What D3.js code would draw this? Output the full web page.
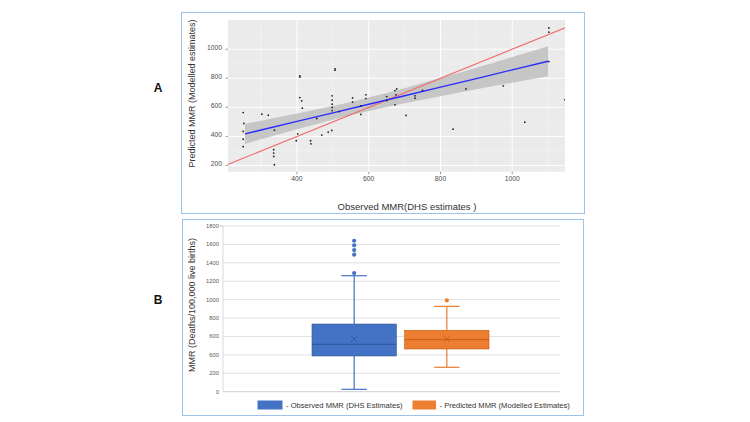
<!DOCTYPE html>
<html><head><meta charset="utf-8">
<script src="https://cdn.jsdelivr.net/npm/d3@7"></script>
<style>html,body{margin:0;padding:0;background:#fff;}svg{display:block;}</style>
</head><body>
<svg id="c" width="750" height="422"></svg>
<script>
// ---------- Panel A data ----------
const obsX  = [250,252,250,250,250,302,320,337,335,335,335,337,402,398,408,408,408,413,415,438,439,455,469,487,497,498,498,498,498,498,506,506,518,555,555,578,578,592,592,650,650,673,678,673,676,704,729,729,750,835,871,975,1035,1102,1102,1102,1147];
const predY = [564,489,434,381,329,553,546,443,308,285,262,205,418,370,816,808,667,645,594,370,349,523,409,430,441,679,649,622,599,578,865,856,571,665,636,551,610,686,660,674,647,715,727,617,686,544,679,663,716,450,727,748,498,1146,1117,915,652];
const smoothX  = [255,300,400,500,600,700,800,900,1000,1100];
const smoothY  = [417,444,503,562,621,680,739,798,858,917];
const smoothLo = [348,380,449,515,574,628,677,724,770,814];
const smoothHi = [486,508,557,609,668,732,801,872,946,1020];
const xTicksA = [400,600,800,1000];
const yTicksA = [200,400,600,800,1000];
const xMinorA = [300,500,700,900,1100];
const yMinorA = [300,500,700,900,1100];

// ---------- Panel B data ----------
const groups   = ["Observed MMR (DHS Estimates)","Predicted MMR (Modelled Estimates)"];
const legendLabels = ["- Observed MMR (DHS Estimates)","- Predicted MMR (Modelled Estimates)"];
const boxQ1    = [388,464];
const boxMed   = [515,565];
const boxQ3    = [735,667];
const boxMean  = [572,572];
const whiskLo  = [26,265];
const whiskHi  = [1260,927];
const outliers = [[1289,1488,1539,1590,1640],[992]];
const yTicksB  = [0,200,400,600,800,1000,1200,1400,1600,1800];
const yTickLabelsB = ["0","200","600","600","800","1000","1200","1400","1600","1800"];
const boxColors  = ["#4472c4","#ed7d31"];
const darkColors = ["#2f5597","#c55a11"];

const svg = d3.select("#c");
const FONT = "'Liberation Sans', Arial, sans-serif";
const border = "#9dc3e6";

// panel frames
svg.append("rect").attr("x",181.5).attr("y",12.5).attr("width",403).attr("height",201)
  .attr("fill","none").attr("stroke",border).attr("stroke-width",1);
svg.append("rect").attr("x",182.5).attr("y",219.5).attr("width",401).attr("height",196)
  .attr("fill","none").attr("stroke",border).attr("stroke-width",1);

// panel letters
svg.append("text").attr("x",158).attr("y",92).attr("text-anchor","middle")
  .style("font",`bold 12px ${FONT}`).attr("fill","#111").text("A");
svg.append("text").attr("x",158).attr("y",304).attr("text-anchor","middle")
  .style("font",`bold 12px ${FONT}`).attr("fill","#111").text("B");

// ================= Panel A =================
const xA = d3.scaleLinear().domain([207.7,1147]).range([228,565]);
const yA = d3.scaleLinear().domain([157,1201]).range([171.7,20]);
const gA = svg.append("g");
gA.append("defs").append("clipPath").attr("id","clipA").append("rect")
  .attr("x",228).attr("y",20).attr("width",337).attr("height",151.7);
gA.append("rect").attr("x",228).attr("y",20).attr("width",337).attr("height",151.7).attr("fill","#ebebeb");
const gridA = gA.append("g");
gridA.selectAll(".vm").data(xMinorA.filter(d=>xA(d)<565)).join("line")
  .attr("x1",d=>xA(d)).attr("x2",d=>xA(d)).attr("y1",20).attr("y2",171.7)
  .attr("stroke","#f6f6f6").attr("stroke-width",0.5);
gridA.selectAll(".hm").data(yMinorA).join("line")
  .attr("y1",d=>yA(d)).attr("y2",d=>yA(d)).attr("x1",228).attr("x2",565)
  .attr("stroke","#f6f6f6").attr("stroke-width",0.5);
gridA.selectAll(".vM").data(xTicksA).join("line")
  .attr("x1",d=>xA(d)).attr("x2",d=>xA(d)).attr("y1",20).attr("y2",171.7)
  .attr("stroke","#fff").attr("stroke-width",1);
gridA.selectAll(".hM").data(yTicksA).join("line")
  .attr("y1",d=>yA(d)).attr("y2",d=>yA(d)).attr("x1",228).attr("x2",565)
  .attr("stroke","#fff").attr("stroke-width",1);

const plotA = gA.append("g").attr("clip-path","url(#clipA)");
const band = d3.area().x((d,i)=>xA(smoothX[i])).y0((d,i)=>yA(smoothLo[i])).y1((d,i)=>yA(smoothHi[i])).curve(d3.curveMonotoneX);
plotA.append("path").datum(smoothX).attr("d",band).attr("fill","#c4c4c4").attr("opacity",0.95);
const idLine = d3.line().x(d=>xA(d)).y(d=>yA(d));
plotA.append("path").datum([150,1300]).attr("d",idLine).attr("fill","none")
  .attr("stroke","#f26b6b").attr("stroke-width",1.1);
const fitLine = d3.line().x((d,i)=>xA(smoothX[i])).y((d,i)=>yA(smoothY[i]));
plotA.append("path").datum(smoothX).attr("d",fitLine).attr("fill","none")
  .attr("stroke","#2b2bff").attr("stroke-width",1.4);
plotA.selectAll("circle").data(obsX).join("circle")
  .attr("cx",d=>xA(d)).attr("cy",(d,i)=>yA(predY[i])).attr("r",0.9).attr("fill","#222");

// axes A
const axA = gA.append("g");
axA.selectAll(".yt").data(yTicksA).join("line")
  .attr("x1",225.5).attr("x2",228).attr("y1",d=>yA(d)).attr("y2",d=>yA(d)).attr("stroke","#555").attr("stroke-width",0.6);
axA.selectAll(".yl").data(yTicksA).join("text")
  .attr("x",222).attr("y",d=>yA(d)-2).attr("dy","0.35em").attr("text-anchor","end")
  .style("font",`6.8px ${FONT}`).attr("fill","#4d4d4d").text(d=>d);
axA.selectAll(".xt").data(xTicksA).join("line")
  .attr("y1",171.7).attr("y2",174.2).attr("x1",d=>xA(d)).attr("x2",d=>xA(d)).attr("stroke","#555").attr("stroke-width",0.6);
axA.selectAll(".xl").data(xTicksA).join("text")
  .attr("x",d=>xA(d)).attr("y",181).attr("text-anchor","middle")
  .style("font",`6.8px ${FONT}`).attr("fill","#4d4d4d").text(d=>d);
gA.append("text").attr("transform","translate(195,93.5) rotate(-90)").attr("text-anchor","middle")
  .style("font",`9px ${FONT}`).attr("fill","#333").text("Predicted MMR (Modelled estimates)");
gA.append("text").attr("x",407).attr("y",210).attr("text-anchor","middle")
  .style("font",`9.5px ${FONT}`).attr("fill","#333").text("Observed MMR(DHS estimates )");

// ================= Panel B =================
const yB = d3.scaleLinear().domain([0,1800]).range([391.7,226]);
const xB = d3.scaleBand().domain(groups).range([312,489]).paddingInner(0.09).paddingOuter(0);
const gB = svg.append("g");
gB.selectAll(".gl").data(yTicksB).join("line")
  .attr("x1",223).attr("x2",560).attr("y1",d=>yB(d)).attr("y2",d=>yB(d))
  .attr("stroke",d=>d===0?"#d0d0d0":"#e0e0e0").attr("stroke-width",1);
gB.append("line").attr("x1",223).attr("x2",223).attr("y1",yB(1800)).attr("y2",yB(0)).attr("stroke","#d9d9d9");
gB.append("line").attr("x1",220).attr("x2",223).attr("y1",yB(1800)).attr("y2",yB(1800)).attr("stroke","#bbb");
gB.selectAll(".tl").data(yTicksB).join("text")
  .attr("x",219).attr("y",d=>yB(d)).attr("dy","0.35em").attr("text-anchor","end")
  .style("font",`5.8px ${FONT}`).attr("fill","#595959").text((d,i)=>yTickLabelsB[i]);
gB.append("text").attr("transform","translate(195,305) rotate(-90)").attr("text-anchor","middle")
  .style("font",`9px ${FONT}`).attr("fill","#333").text("MMR (Deaths/100,000 live births)");

const bw = xB.bandwidth();
groups.forEach((g,i)=>{
  const cx = xB(g)+bw/2, c = boxColors[i], dc = darkColors[i];
  const cap = bw*0.3;
  const G = gB.append("g");
  G.append("line").attr("x1",cx).attr("x2",cx).attr("y1",yB(whiskHi[i])).attr("y2",yB(boxQ3[i])).attr("stroke",c).attr("stroke-width",1.2);
  G.append("line").attr("x1",cx).attr("x2",cx).attr("y1",yB(whiskLo[i])).attr("y2",yB(boxQ1[i])).attr("stroke",c).attr("stroke-width",1.2);
  G.append("line").attr("x1",cx-cap/2).attr("x2",cx+cap/2).attr("y1",yB(whiskHi[i])).attr("y2",yB(whiskHi[i])).attr("stroke",c).attr("stroke-width",1.2);
  G.append("line").attr("x1",cx-cap/2).attr("x2",cx+cap/2).attr("y1",yB(whiskLo[i])).attr("y2",yB(whiskLo[i])).attr("stroke",c).attr("stroke-width",1.2);
  G.append("rect").attr("x",xB(g)).attr("width",bw).attr("y",yB(boxQ3[i])).attr("height",yB(boxQ1[i])-yB(boxQ3[i]))
    .attr("fill",c).attr("stroke",dc).attr("stroke-width",0.6);
  G.append("line").attr("x1",xB(g)).attr("x2",xB(g)+bw).attr("y1",yB(boxMed[i])).attr("y2",yB(boxMed[i])).attr("stroke",dc).attr("stroke-width",1);
  const my = yB(boxMean[i]), s=3.2;
  G.append("path").attr("d",`M${cx-s},${my-s}L${cx+s},${my+s}M${cx-s},${my+s}L${cx+s},${my-s}`).attr("stroke",dc).attr("stroke-width",0.9);
  G.selectAll("circle").data(outliers[i]).join("circle").attr("cx",cx).attr("cy",d=>yB(d)).attr("r",2.1).attr("fill",c);
});

// legend
const legX = [257.5,412.5];
groups.forEach((g,i)=>{
  svg.append("rect").attr("x",legX[i]).attr("y",400.5).attr("width",i===0?25:23.5).attr("height",9).attr("fill",boxColors[i]);
  svg.append("text").attr("x",legX[i]+(i===0?28.5:27)).attr("y",405).attr("dy","0.35em")
    .style("font",`7.6px ${FONT}`).attr("fill","#333").text(legendLabels[i]);
});
</script>
</body></html>
